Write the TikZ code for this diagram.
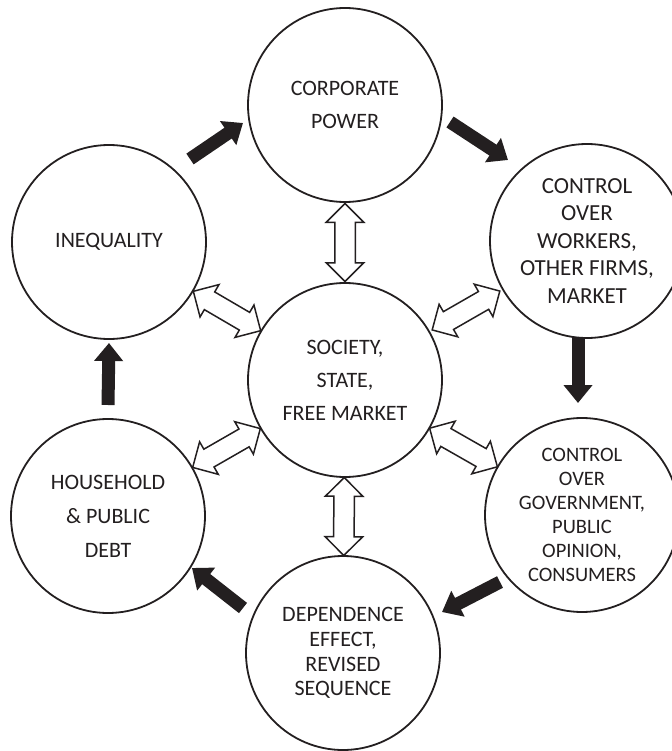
\documentclass[tikz,border=0pt]{standalone}
\usepackage{fontspec}
\setmainfont{Carlito}
\usetikzlibrary{arrows.meta,shapes.arrows,calc}
\definecolor{ink}{HTML}{231F20}
\begin{document}
\begin{tikzpicture}[x=1pt,y=-1pt,
  circ/.style={circle, draw=ink, line width=1.8pt, fill=white, minimum size=194pt, inner sep=0pt, align=center, text=ink, font=\fontsize{22}{33}\selectfont},
  blk/.style={draw=ink, line width=13pt, -{Triangle[length=18pt,width=28pt]}},
  darrow/.style={double arrow, draw=ink, line width=1.5pt, fill=white, minimum height=78pt, minimum width=37pt, double arrow head extend=8.5pt, inner xsep=0pt, inner ysep=9.5pt, sloped, midway}
]
\useasboundingbox (0,0) rectangle (671,751);
\node[circ] (top) at (345,105) {CORPORATE\\POWER};
\node[circ, font=\fontsize{23}{27.5}\selectfont] (ur) at (587,241) {CONTROL\\OVER\\WORKERS,\\OTHER FIRMS,\\MARKET};
\node[circ, font=\fontsize{20.5}{24}\selectfont] (lr) at (582,515) {CONTROL\\OVER\\GOVERNMENT,\\PUBLIC\\OPINION,\\CONSUMERS};
\node[circ, font=\fontsize{22}{24.7}\selectfont] (bot) at (343,653) {DEPENDENCE\\EFFECT,\\REVISED\\SEQUENCE};
\node[circ, font=\fontsize{22}{34}\selectfont] (ll) at (108,516) {HOUSEHOLD\\\& PUBLIC\\DEBT};
\node[circ] (ul) at (109,242) {INEQUALITY};
\node[circ] (c) at (345,380) {SOCIETY,\\STATE,\\FREE MARKET};

\draw[blk] ($(ul)+(81,-83)$) -- ($(top)+(-102,18)$);
\draw[blk] ($(top)+(105,17)$) -- ($(ur)+(-79,-81)$);
\draw[blk] ($(ur)+(-9,97)$) -- ($(lr)+(-4,-112)$);
\draw[blk] ($(lr)+(-82,67)$) -- ($(bot)+(99,-41)$);
\draw[blk] ($(bot)+(-100,-45)$) -- ($(ll)+(84,52)$);
\draw[blk] ($(ll)+(0,-111)$) -- ($(ul)+(0,101)$);

\path (c) -- (top) node[darrow]{};
\path (c) -- (ur) node[darrow]{};
\path (c) -- (lr) node[darrow]{};
\path (c) -- (bot) node[darrow]{};
\path (c) -- (ll) node[darrow]{};
\path (c) -- (ul) node[darrow]{};
\end{tikzpicture}
\end{document}
